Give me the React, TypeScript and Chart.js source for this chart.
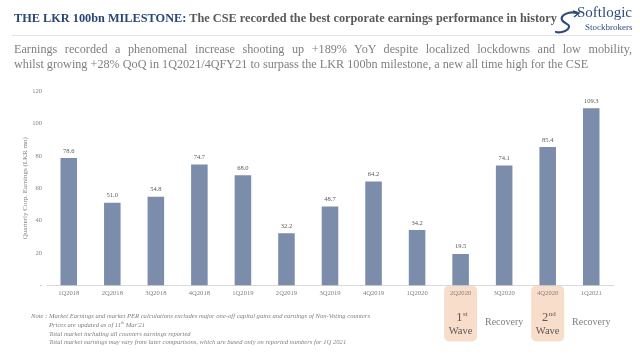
import React, { useEffect, useRef } from "react";
import { Chart, registerables } from "chart.js";

Chart.register(...registerables);

const categories = [
  "1Q2018", "2Q2018", "3Q2018", "4Q2018", "1Q2019", "2Q2019", "3Q2019",
  "4Q2019", "1Q2020", "2Q2020", "3Q2020", "4Q2020", "1Q2021",
];
const earnings = [78.6, 51.0, 54.8, 74.7, 68.0, 32.2, 48.7, 64.2, 34.2, 19.5, 74.1, 85.4, 109.3];
const yMin = 0;
const yMax = 120;
const yStep = 20;
const yAxisTitle = "Quarterly Corp. Earnings (LKR mn)";
const waveCats = ["2Q2020", "4Q2020"];
const waveOrd = ["1", "2"];
const waveSup = ["st", "nd"];
const recoveryCats = ["3Q2020", "1Q2021"];
const subtitleLines = [
  "Earnings recorded a phenomenal increase shooting up +189% YoY despite localized lockdowns and low mobility,",
  "whilst growing +28% QoQ in 1Q2021/4QFY21 to surpass the LKR 100bn milestone, a new all time high for the CSE",
];
const notes = [
  "Note : Market Earnings and market PER calculations excludes major one-off capital gains and earnings of Non-Voting counters",
  "Prices are updated as of 11th Mar'21",
  "Total market including all counters earnings reported",
  "Total market earnings may vary from later comparisons, which are based only on reported numbers for 1Q 2021",
];

const SERIF = "'Liberation Serif', 'DejaVu Serif', serif";
const BAR = "#7b8dab";
const PEACH = "#f9ddcb";

const overlayPlugin = {
  id: "overlay",
  beforeDraw(chart: any) {
    const { ctx, scales } = chart;
    const x = scales.x;
    ctx.save();
    ctx.fillStyle = PEACH;
    waveCats.forEach((c) => {
      const cx = x.getPixelForValue(categories.indexOf(c));
      ctx.beginPath();
      ctx.roundRect(cx - 16.5, chart.chartArea.bottom, 33, 56, 5);
      ctx.fill();
    });
    ctx.restore();
  },
  afterDatasetsDraw(chart: any) {
    const { ctx } = chart;
    const meta = chart.getDatasetMeta(0);
    ctx.save();
    ctx.font = `6.5px ${SERIF}`;
    ctx.fillStyle = "#595959";
    ctx.textAlign = "center";
    ctx.textBaseline = "bottom";
    meta.data.forEach((bar: any, i: number) => {
      ctx.fillText(earnings[i].toFixed(1), bar.x, bar.y - 4);
    });
    ctx.restore();
  },
  afterDraw(chart: any) {
    const { ctx, scales, chartArea } = chart;
    const x = scales.x;
    ctx.save();
    ctx.translate(25, (chartArea.top + chartArea.bottom) / 2);
    ctx.rotate(-Math.PI / 2);
    ctx.font = `7px ${SERIF}`;
    ctx.fillStyle = "#7f7f7f";
    ctx.textAlign = "center";
    ctx.textBaseline = "middle";
    ctx.fillText(yAxisTitle, 0, 0);
    ctx.restore();

    ctx.save();
    ctx.textBaseline = "alphabetic";
    waveCats.forEach((c, i) => {
      const cx = x.getPixelForValue(categories.indexOf(c));
      ctx.fillStyle = "#595959";
      ctx.font = `12.5px ${SERIF}`;
      const w1 = ctx.measureText(waveOrd[i]).width;
      ctx.font = `7px ${SERIF}`;
      const w2 = ctx.measureText(waveSup[i]).width;
      const start = cx - (w1 + w2) / 2 + 1;
      ctx.font = `12.5px ${SERIF}`;
      ctx.textAlign = "left";
      ctx.fillText(waveOrd[i], start, 321);
      ctx.font = `7px ${SERIF}`;
      ctx.fillText(waveSup[i], start + w1 + 0.5, 315.5);
      ctx.font = `10.5px ${SERIF}`;
      ctx.textAlign = "center";
      ctx.fillText("Wave", cx, 334);
    });
    recoveryCats.forEach((c) => {
      const cx = x.getPixelForValue(categories.indexOf(c));
      ctx.fillStyle = "#7f7f7f";
      ctx.font = `10px ${SERIF}`;
      ctx.textAlign = "center";
      ctx.fillText("Recovery", cx, 325);
    });
    ctx.restore();
  },
};

function Logo() {
  return (
    <div style={{ position: "absolute", left: 553, top: 3, width: 86, height: 34 }}>
      <svg width="30" height="26" style={{ position: "absolute", left: 0, top: 7 }} viewBox="0 0 30 26">
        <path d="M24 3 C 16 1, 7 5, 9 10 C 11 14, 19 14, 15 19 C 12 22, 6 23, 3 22" fill="none" stroke="#2f4b7c" strokeWidth="2.2" strokeLinecap="round" />
        <path d="M20 1 L 26 3 L 21 7" fill="none" stroke="#2f4b7c" strokeWidth="1.6" />
      </svg>
      <div style={{ position: "absolute", left: 24, top: 1, fontFamily: SERIF, fontSize: 15, color: "#2f4b7c", lineHeight: "16px", whiteSpace: "nowrap" }}>
        Softlogic
      </div>
      <div style={{ position: "absolute", left: 32, top: 19, fontFamily: SERIF, fontSize: 9, color: "#2f4b7c", lineHeight: "10px", whiteSpace: "nowrap" }}>
        Stockbrokers
      </div>
    </div>
  );
}

export default function App() {
  const canvasRef = useRef<HTMLCanvasElement | null>(null);

  useEffect(() => {
    if (!canvasRef.current) return;
    const chart = new Chart(canvasRef.current, {
      type: "bar",
      data: {
        labels: categories,
        datasets: [
          {
            data: earnings,
            backgroundColor: BAR,
            barPercentage: 0.38,
            categoryPercentage: 1.0,
          },
        ],
      },
      options: {
        animation: false,
        responsive: false,
        maintainAspectRatio: false,
        layout: { padding: { left: 0, right: 27, top: 91, bottom: 0 } },
        plugins: { legend: { display: false }, tooltip: { enabled: false } },
        scales: {
          x: {
            grid: { display: false, drawTicks: false },
            border: { display: true, color: "#d9d9d9", width: 1 },
            ticks: { font: { family: SERIF, size: 6.6 }, color: "#7f7f7f", padding: 4, maxRotation: 0, autoSkip: false },
            afterFit: (s: any) => { s.height = 74.5; },
          },
          y: {
            min: yMin,
            max: yMax,
            grid: { display: false, drawTicks: false },
            border: { display: false },
            ticks: {
              stepSize: yStep,
              font: { family: SERIF, size: 6.5 },
              color: "#7f7f7f",
              padding: 5,
              callback: (v: any) => (Number(v) === 0 ? "-" : String(v)),
            },
            afterFit: (s: any) => { s.width = 47; },
          },
        },
      },
      plugins: [overlayPlugin],
    });
    return () => chart.destroy();
  }, []);

  const subStyle: React.CSSProperties = {
    fontFamily: SERIF, fontSize: 12.2, color: "#808080", lineHeight: "15px", whiteSpace: "nowrap",
  };

  return (
    <div style={{ position: "fixed", left: 0, top: 0, width: 640, height: 360, overflow: "hidden", background: "#fff" }}>
      <canvas ref={canvasRef} width={640} height={360} style={{ position: "absolute", left: 0, top: 0, width: 640, height: 360 }} />
      <div style={{ position: "absolute", left: 14, top: 10, fontFamily: SERIF, fontSize: 12.3, fontWeight: "bold", color: "#595959", whiteSpace: "nowrap", lineHeight: "16px" }}>
        <span style={{ color: "#2a4676" }}>THE LKR 100bn MILESTONE:</span> The CSE recorded the best corporate earnings performance in history
      </div>
      <div style={{ position: "absolute", left: 12, top: 35, width: 620, height: 1, background: "#e3e3e3" }} />
      <div style={{ position: "absolute", left: 14, top: 42, width: 618 }}>
        <div style={{ ...subStyle, whiteSpace: "normal", textAlign: "justify", textAlignLast: "justify" as any }}>{subtitleLines[0]}</div>
        <div style={subStyle}>{subtitleLines[1]}</div>
      </div>
      <Logo />
      <div style={{ position: "absolute", left: 31, top: 312, fontFamily: SERIF, fontSize: 6.6, fontStyle: "italic", color: "#7f7f7f", lineHeight: "8.8px", whiteSpace: "nowrap" }}>
        <div>{notes[0]}</div>
        <div style={{ paddingLeft: 18 }}>Prices are updated as of 11<sup style={{ fontSize: 4, lineHeight: 0 }}>th</sup> Mar'21</div>
        <div style={{ paddingLeft: 18 }}>{notes[2]}</div>
        <div style={{ paddingLeft: 18 }}>{notes[3]}</div>
      </div>
    </div>
  );
}
